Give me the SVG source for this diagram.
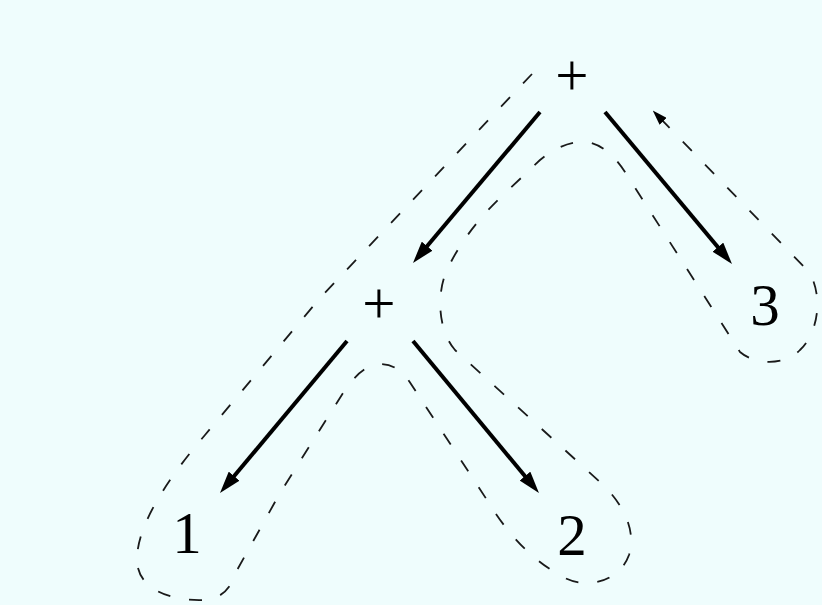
<svg xmlns="http://www.w3.org/2000/svg" width="822" height="605" viewBox="0 0 822 605">
<style>
.lbl{font-family:"Liberation Serif","Times New Roman",serif;font-size:59px;fill:#000;text-anchor:middle}
.edge{stroke:#000;stroke-width:4;fill:none;marker-end:url(#ah)}
.tour{stroke:#1a1a1a;stroke-width:1.8;fill:none;stroke-dasharray:13 19}
</style>
<defs>
<marker id="ah" viewBox="0 0 22 14" markerUnits="userSpaceOnUse" markerWidth="22" markerHeight="14" refX="10" refY="7" orient="auto">
<path d="M0,0 L22,7 L0,14 z" fill="#000"/>
</marker>
<marker id="ah2" viewBox="0 0 15 10" markerUnits="userSpaceOnUse" markerWidth="15" markerHeight="10" refX="6" refY="5" orient="auto">
<path d="M0,0 L15,5 L0,10 z" fill="#000"/>
</marker>
</defs>
<rect width="822" height="605" fill="#effdfd"/>
<g id="connectors">
<line class="edge" x1="540" y1="112" x2="420.7" y2="253.8"/>
<line class="edge" x1="605" y1="112" x2="724.3" y2="254.8"/>
<line class="edge" x1="347" y1="341" x2="227.7" y2="483.8"/>
<line class="edge" x1="413" y1="341" x2="531.3" y2="483.8"/>
<path id="tour" class="tour" marker-end="url(#ah2)" d="M532,74 L320,298 L205,435 C175,470 138,520 137,558 C136,590 172,601 203,600 C222,599 231,588 236,572 L280,493 L343,393 C355,375 366,365 380,364 C395,364 404,373 411,384 L487,500 C505,530 530,560 565,578 C590,590 620,580 629,555 C637,530 622,502 600,482 L455,350 C440,333 436,300 445,275 C455,250 475,222 500,198 L540,160 C555,148 570,141 585,142 C600,143 614,155 625,172 L740,352 C755,365 785,366 800,350 C819,332 823,295 809,272 L659,117"/>
</g>
<g id="n_plus_top"><text class="lbl" x="572" y="95">+</text></g>
<g id="n_plus_low"><text class="lbl" x="379" y="323">+</text></g>
<g id="n_1"><text class="lbl" x="187" y="553">1</text></g>
<g id="n_2"><text class="lbl" x="572" y="555">2</text></g>
<g id="n_3"><text class="lbl" x="765" y="325">3</text></g>
</svg>
